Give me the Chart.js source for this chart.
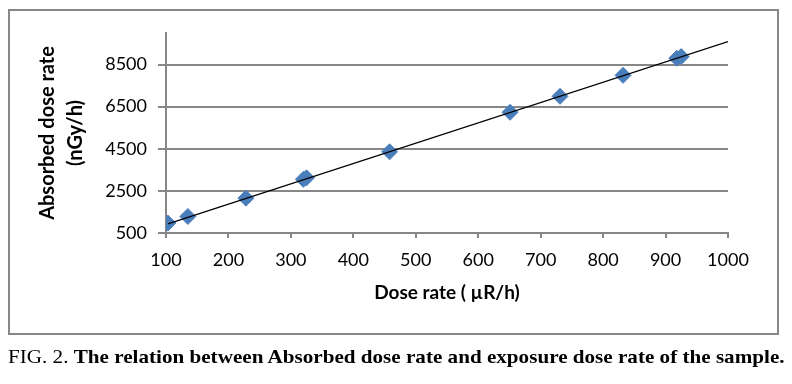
<!DOCTYPE html>
<html>
<head>
<meta charset="utf-8">
<script src="https://cdn.jsdelivr.net/npm/chart.js@4"></script>
<style>
  html, body { margin: 0; padding: 0; background: #fff; }
  body { width: 792px; height: 384px; position: relative; overflow: hidden; }
  #frame { position: absolute; left: 8px; top: 9px; width: 767px; height: 322px; border: 2px solid #878787; }
  #wrap { position: absolute; left: 0; top: 0; width: 792px; height: 384px; }
  #caption { position: absolute; left: 8px; top: 346px; white-space: nowrap;
    font-family: "Liberation Serif", "Times New Roman", serif; font-size: 19px; color: #000;
    transform-origin: 0 0; }
  #caption b { font-weight: bold; }
</style>
</head>
<body>
<div id="frame"></div>
<div id="wrap"><canvas id="chart" width="792" height="384"></canvas></div>
<div id="caption">FIG. 2. <b>The relation between Absorbed dose rate and exposure dose rate of the sample.</b></div>
<script>
// Data
const doseRate = [103, 135, 228, 320, 325, 458, 651, 731, 832, 918, 925];       // µR/h
const absorbedDose = [973, 1285, 2155, 3050, 3120, 4358, 6235, 6992, 7990, 8800, 8880]; // nGy/h

// Trend line end points
const trendX = [103, 1000];
const trendY = [935, 9590];

const xTicks = [100, 200, 300, 400, 500, 600, 700, 800, 900, 1000];
const yTicks = [500, 2500, 4500, 6500, 8500];

const gridGrey = '#878787';
const markerBlue = '#4A7EBB';

const points = doseRate.map((x, i) => ({ x: x, y: absorbedDose[i] }));
const trend = trendX.map((x, i) => ({ x: x, y: trendY[i] }));

const ctx = document.getElementById('chart').getContext('2d');
const chart = new Chart(ctx, {
    type: 'scatter',
    data: {
        datasets: [{
            label: 'Trend',
            data: trend,
            showLine: true,
            borderColor: '#000',
            borderWidth: 1.2,
            pointRadius: 0,
            fill: false
        }, {
            label: 'Absorbed dose rate',
            data: points,
            pointStyle: 'rectRot',
            pointRadius: 8,
            backgroundColor: markerBlue,
            borderColor: markerBlue,
            borderWidth: 1
        }]
    },
    options: {
        responsive: false,
        animation: false,
        layout: { padding: { left: 20, top: 33, right: 64, bottom: 79 } },
        plugins: { legend: { display: false }, tooltip: { enabled: false } },
        scales: {
            x: {
                type: 'linear',
                min: 100,
                max: 1000,
                afterBuildTicks: (s) => { s.ticks = xTicks.map(v => ({ value: v })); },
                afterFit: (s) => { s.height = 72; },
                grid: { drawOnChartArea: false, drawTicks: true, tickLength: 5, color: gridGrey, lineWidth: 2 },
                border: { color: gridGrey, width: 2 },
                ticks: { color: '#000', padding: 11, maxRotation: 0, font: { family: 'Lato', size: 18 },
                         callback: (v) => String(v) },
                title: {
                    display: true,
                    text: 'Dose rate ( µR/h)',
                    color: '#000',
                    padding: 0,
                    font: { family: 'Lato', size: 19, weight: 'bold', lineHeight: 1.3 }
                }
            },
            y: {
                type: 'linear',
                min: 500,
                max: 10000,
                afterBuildTicks: (s) => { s.ticks = yTicks.map(v => ({ value: v })); },
                afterFit: (s) => { s.width = 146; },
                grid: { drawTicks: true, tickLength: 8, color: gridGrey, lineWidth: 2 },
                border: { color: gridGrey, width: 2 },
                ticks: { color: '#000', padding: 11, font: { family: 'Lato', size: 18 },
                         callback: (v) => String(v) },
                title: {
                    display: true,
                    text: ['Absorbed dose rate', '(nGy/h)'],
                    color: '#000',
                    padding: { top: 14, bottom: 0 },
                    font: { family: 'Lato', size: 20, weight: 'bold', lineHeight: 1.4 }
                }
            }
        }
    }
});

// squeeze caption to the width it takes in the figure
const cap = document.getElementById('caption');
cap.style.transform = 'scaleX(' + (777 / cap.scrollWidth) + ')';
</script>
</body>
</html>
